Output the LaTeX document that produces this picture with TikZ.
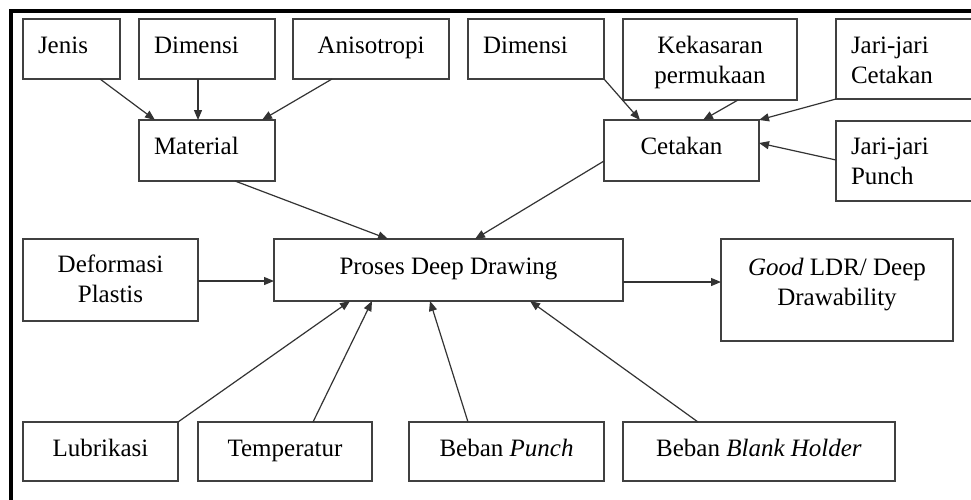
\documentclass[tikz,border=0pt]{standalone}
\usepackage{fontspec}
\setmainfont{Liberation Serif}
\usetikzlibrary{arrows.meta,calc}
\newcommand\boxc[4]{\parbox[t][#2pt][t]{#1pt}{\centering\rule{0pt}{#3pt}#4\par}}
\newcommand\boxl[4]{\parbox[t][#2pt][t]{#1pt}{\raggedright\leftskip=15pt\rule{0pt}{#3pt}#4\par}}
\begin{document}
\begin{tikzpicture}[x=1pt,y=-1pt,
  bx/.style={draw=black!75,line width=1.4pt,inner sep=0pt,outer sep=0pt,anchor=north west,font=\fontsize{25}{30}\selectfont},
  arr/.style={draw=black!80,line width=1.2pt,-{Triangle[length=10pt,width=8pt]}}]
\useasboundingbox (0,0) rectangle (971,499);
\clip (0,0) rectangle (971,499);
\fill[white] (0,0) rectangle (971,499);
\draw[line width=3.5pt] (11,505) -- (11,10.8) -- (980,10.8);
% top row
\node[bx] (jenis) at (23,19) {\boxl{97}{60}{34}{Jenis}};
\node[bx] (dim1) at (139,19) {\boxl{136}{60}{34}{Dimensi}};
\node[bx] (aniso) at (293,19) {\boxc{156}{60}{34}{Anisotropi}};
\node[bx] (dim2) at (468,19) {\boxl{136}{60}{34}{Dimensi}};
\node[bx] (kek) at (623,19) {\boxc{174}{81}{34}{Kekasaran\\permukaan}};
\node[bx] (jc) at (836,19) {\boxl{160}{80}{34}{Jari-jari\\Cetakan}};
% second row
\node[bx] (mat) at (139,120) {\boxl{136}{61}{34}{Material}};
\node[bx] (cet) at (604,120) {\boxc{155}{61}{34}{Cetakan}};
\node[bx] (jp) at (836,121) {\boxl{160}{80}{33}{Jari-jari\\Punch}};
% middle row
\node[bx] (def) at (23,239) {\boxc{175}{82}{33}{Deformasi\\Plastis}};
\node[bx] (pdd) at (274,239) {\boxc{349}{62}{35}{Proses Deep Drawing}};
\node[bx] (good) at (721,239) {\boxc{232}{102}{36}{\textit{Good} LDR/ Deep\\Drawability}};
% bottom row
\node[bx] (lub) at (23,422) {\boxc{155}{59}{34}{Lubrikasi}};
\node[bx] (temp) at (198,422) {\boxc{174}{59}{34}{Temperatur}};
\node[bx] (bp) at (409,422) {\boxc{195}{59}{34}{Beban \textit{Punch}}};
\node[bx] (bbh) at (623,422) {\boxc{272}{59}{34}{Beban \textit{Blank Holder}}};
% arrows into Material
\draw[arr] ($(jenis.south west)+(77,0)$) -- ($(mat.north west)+(16,0)$);
\draw[arr] ($(dim1.south west)+(59,0)$) -- ($(mat.north west)+(59,0)$);
\draw[arr] ($(aniso.south west)+(39,0)$) -- ($(mat.north west)+(123,0)$);
% arrows into Cetakan
\draw[arr] (dim2.south east) -- ($(cet.north west)+(36,0)$);
\draw[arr] ($(kek.south west)+(115,0)$) -- ($(cet.north west)+(99,0)$);
\draw[arr] (jc.south west) -- (cet.north east);
\draw[arr] ($(jp.north west)+(0,39)$) -- ($(cet.north east)+(0,23)$);
% into Proses
\draw[arr] ($(mat.south west)+(96,0)$) -- ($(pdd.north west)+(114,0)$);
\draw[arr] ($(cet.north west)+(0,41)$) -- ($(pdd.north west)+(201,0)$);
\draw[arr] ($(def.north east)+(0,42)$) -- ($(pdd.north west)+(0,42)$);
\draw[arr] ($(pdd.north east)+(0,43)$) -- ($(good.north west)+(0,43)$);
\draw[arr] (lub.north east) -- ($(pdd.south west)+(76,0)$);
\draw[arr] ($(temp.north west)+(115,0)$) -- ($(pdd.south west)+(98,0)$);
\draw[arr] ($(bp.north west)+(59,0)$) -- ($(pdd.south west)+(156,0)$);
\draw[arr] ($(bbh.north west)+(75,0)$) -- ($(pdd.south west)+(256,0)$);
\end{tikzpicture}
\end{document}
